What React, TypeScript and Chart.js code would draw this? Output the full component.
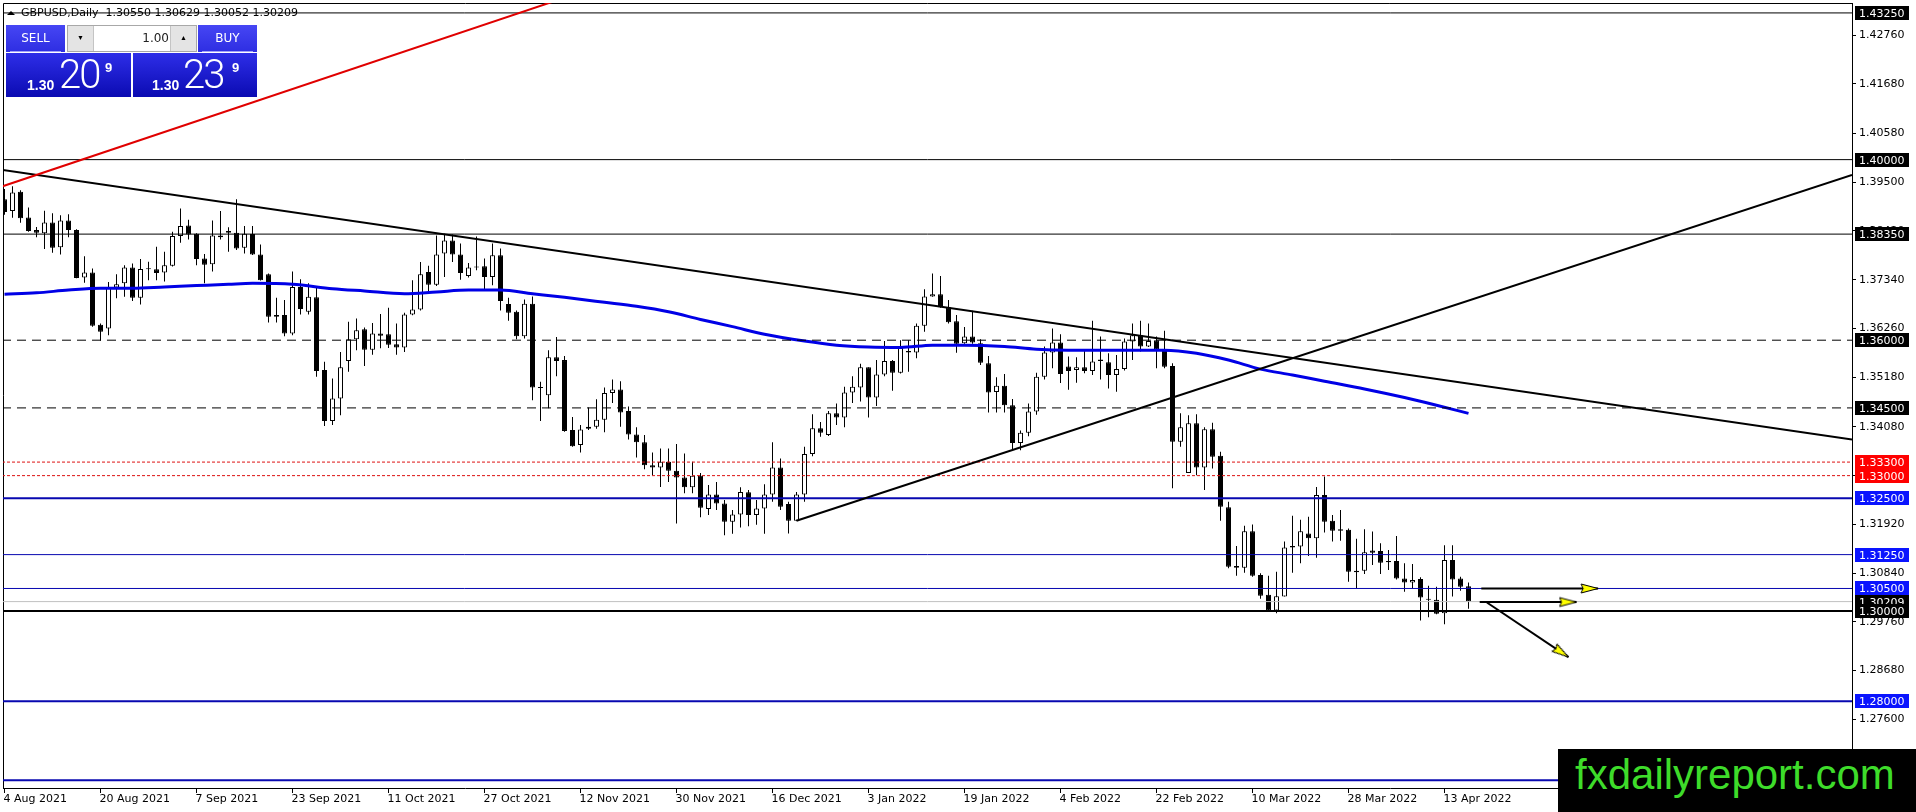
import React, { useEffect, useRef } from 'react';
import { Chart, registerables } from 'chart.js';

Chart.register(...registerables);

// ---------- data ----------
const SYMBOL = 'GBPUSD,Daily';
const LAST_OHLC = [1.3055, 1.30629, 1.30052, 1.30209];
const BID = 1.30209;
const ASK = 1.30239;
const LOT = '1.00';

const DATE_LABELS = ['4 Aug 2021', '20 Aug 2021', '7 Sep 2021', '23 Sep 2021', '11 Oct 2021', '27 Oct 2021', '12 Nov 2021', '30 Nov 2021', '16 Dec 2021', '3 Jan 2022', '19 Jan 2022', '4 Feb 2022', '22 Feb 2022', '10 Mar 2022', '28 Mar 2022', '13 Apr 2022'];
const LABEL_STEP = 12;

const OPEN = [
  1.3912, 1.3886, 1.3929, 1.3872, 1.3844, 1.3837, 1.3861, 1.3806, 1.3865, 1.3844,
  1.3739, 1.3750, 1.3634, 1.3626, 1.3717, 1.3726, 1.3761, 1.3694, 1.3759, 1.3757,
  1.3750, 1.3765, 1.3831, 1.3854, 1.3836, 1.3781, 1.3768, 1.3832, 1.3842, 1.3838,
  1.3805, 1.3835, 1.3790, 1.3746, 1.3656, 1.3656, 1.3615, 1.3718, 1.3663, 1.3695,
  1.3534, 1.3421, 1.3471, 1.3554, 1.3602, 1.3624, 1.3579, 1.3615, 1.3613, 1.3591,
  1.3584, 1.3657, 1.3668, 1.3751, 1.3723, 1.3792, 1.3821, 1.3790, 1.3742, 1.3763,
  1.3764, 1.3740, 1.3788, 1.3680, 1.3663, 1.3609, 1.3681, 1.3495, 1.3478, 1.3562,
  1.3556, 1.3401, 1.3368, 1.3404, 1.3408, 1.3424, 1.3483, 1.3491, 1.3443, 1.3391,
  1.3374, 1.3323, 1.3318, 1.3331, 1.3311, 1.3296, 1.3274, 1.3300, 1.3226, 1.3258,
  1.3238, 1.3198, 1.3214, 1.3263, 1.3213, 1.3227, 1.3258, 1.3318, 1.3237, 1.3200,
  1.3258, 1.3348, 1.3405, 1.3390, 1.3438, 1.3429, 1.3484, 1.3495, 1.3540, 1.3473,
  1.3524, 1.3554, 1.3528, 1.3576, 1.3573, 1.3632, 1.3697, 1.3702, 1.3673, 1.3642,
  1.3593, 1.3608, 1.3593, 1.3549, 1.3485, 1.3499, 1.3456, 1.3372, 1.3395, 1.3442,
  1.3519, 1.3573, 1.3595, 1.3542, 1.3534, 1.3540, 1.3532, 1.3557, 1.3551, 1.3523,
  1.3536, 1.3597, 1.3611, 1.3586, 1.3600, 1.3580, 1.3543, 1.3375, 1.3306, 1.3416,
  1.3318, 1.3403, 1.3344, 1.3230, 1.3100, 1.3096, 1.3177, 1.3080, 1.3036, 1.3001,
  1.3032, 1.3144, 1.3143, 1.3172, 1.3161, 1.3257, 1.3200, 1.3181, 1.3180, 1.3089,
  1.3089, 1.3134, 1.3133, 1.3111, 1.3111, 1.3072, 1.3063, 1.3071, 1.3027, 1.3025,
  1.2995, 1.3113, 1.3072, 1.3055,
];
const HIGH = [
  1.3935, 1.3941, 1.3932, 1.3894, 1.3851, 1.3887, 1.3881, 1.3877, 1.3879, 1.3846,
  1.3786, 1.3759, 1.3637, 1.3729, 1.3746, 1.3766, 1.3770, 1.3780, 1.3774, 1.3807,
  1.3796, 1.3840, 1.3892, 1.3867, 1.3837, 1.3791, 1.3865, 1.3886, 1.3850, 1.3912,
  1.3853, 1.3853, 1.3812, 1.3748, 1.3694, 1.3689, 1.3752, 1.3735, 1.3726, 1.3717,
  1.3552, 1.3515, 1.3574, 1.3641, 1.3648, 1.3628, 1.3638, 1.3658, 1.3672, 1.3637,
  1.3661, 1.3733, 1.3773, 1.3765, 1.3832, 1.3836, 1.3834, 1.3814, 1.3771, 1.3830,
  1.3781, 1.3814, 1.3803, 1.3694, 1.3666, 1.3690, 1.3697, 1.3508, 1.3578, 1.3607,
  1.3565, 1.3430, 1.3412, 1.3451, 1.3469, 1.3495, 1.3513, 1.3509, 1.3453, 1.3407,
  1.3390, 1.3351, 1.3360, 1.3360, 1.3370, 1.3349, 1.3331, 1.3306, 1.3279, 1.3286,
  1.3246, 1.3224, 1.3274, 1.3268, 1.3246, 1.3281, 1.3374, 1.3338, 1.3242, 1.3264,
  1.3364, 1.3436, 1.3419, 1.3443, 1.3460, 1.3497, 1.3520, 1.3548, 1.3540, 1.3556,
  1.3598, 1.3556, 1.3600, 1.3600, 1.3637, 1.3713, 1.3748, 1.3742, 1.3689, 1.3656,
  1.3629, 1.3665, 1.3602, 1.3565, 1.3518, 1.3525, 1.3470, 1.3400, 1.3460, 1.3528,
  1.3586, 1.3626, 1.3613, 1.3564, 1.3562, 1.3576, 1.3643, 1.3608, 1.3571, 1.3567,
  1.3604, 1.3637, 1.3643, 1.3637, 1.3608, 1.3621, 1.3549, 1.3438, 1.3434, 1.3436,
  1.3407, 1.3417, 1.3353, 1.3242, 1.3144, 1.3189, 1.3192, 1.3084, 1.3078, 1.3087,
  1.3154, 1.3211, 1.3202, 1.3209, 1.3275, 1.3298, 1.3213, 1.3224, 1.3183, 1.3160,
  1.3181, 1.3176, 1.3150, 1.3135, 1.3166, 1.3106, 1.3104, 1.3075, 1.3056, 1.3054,
  1.3146, 1.3146, 1.3076, 1.3063,
];
const LOW = [
  1.3878, 1.3871, 1.3860, 1.3840, 1.3828, 1.3802, 1.3794, 1.3790, 1.3828, 1.3737,
  1.3727, 1.3630, 1.3599, 1.3611, 1.3693, 1.3696, 1.3687, 1.3679, 1.3733, 1.3733,
  1.3730, 1.3763, 1.3816, 1.3823, 1.3766, 1.3726, 1.3752, 1.3823, 1.3796, 1.3800,
  1.3792, 1.3789, 1.3732, 1.3639, 1.3639, 1.3609, 1.3611, 1.3657, 1.3657, 1.3519,
  1.3410, 1.3412, 1.3434, 1.3530, 1.3578, 1.3543, 1.3568, 1.3582, 1.3583, 1.3568,
  1.3574, 1.3655, 1.3666, 1.3707, 1.3720, 1.3740, 1.3773, 1.3734, 1.3739, 1.3755,
  1.3712, 1.3722, 1.3666, 1.3643, 1.3602, 1.3604, 1.3467, 1.3421, 1.3449, 1.3520,
  1.3397, 1.3364, 1.3351, 1.3401, 1.3404, 1.3396, 1.3461, 1.3408, 1.3380, 1.3340,
  1.3314, 1.3301, 1.3275, 1.3286, 1.3194, 1.3261, 1.3261, 1.3208, 1.3213, 1.3224,
  1.3168, 1.3171, 1.3185, 1.3188, 1.3191, 1.3171, 1.3242, 1.3224, 1.3172, 1.3200,
  1.3242, 1.3343, 1.3386, 1.3388, 1.3412, 1.3407, 1.3461, 1.3464, 1.3429, 1.3454,
  1.3520, 1.3488, 1.3526, 1.3530, 1.3560, 1.3619, 1.3696, 1.3672, 1.3637, 1.3572,
  1.3592, 1.3592, 1.3545, 1.3440, 1.3440, 1.3440, 1.3358, 1.3356, 1.3387, 1.3435,
  1.3513, 1.3538, 1.3505, 1.3490, 1.3506, 1.3527, 1.3523, 1.3513, 1.3493, 1.3486,
  1.3533, 1.3556, 1.3575, 1.3585, 1.3538, 1.3538, 1.3272, 1.3364, 1.3306, 1.3301,
  1.3268, 1.3316, 1.3200, 1.3095, 1.3078, 1.3085, 1.3076, 1.3027, 1.2999, 1.2995,
  1.3032, 1.3085, 1.3106, 1.3122, 1.3118, 1.3174, 1.3154, 1.3156, 1.3065, 1.3050,
  1.3082, 1.3102, 1.3082, 1.3091, 1.3070, 1.3043, 1.3050, 1.2979, 1.2986, 1.2993,
  1.2971, 1.3032, 1.3045, 1.3005,
];
const CLOSE = [
  1.3884, 1.3927, 1.3870, 1.3842, 1.3838, 1.3861, 1.3805, 1.3865, 1.3844, 1.3738,
  1.3750, 1.3632, 1.3619, 1.3717, 1.3724, 1.3761, 1.3694, 1.3758, 1.3757, 1.3749,
  1.3766, 1.3831, 1.3853, 1.3834, 1.3780, 1.3767, 1.3832, 1.3828, 1.3838, 1.3803,
  1.3836, 1.3790, 1.3733, 1.3652, 1.3652, 1.3615, 1.3718, 1.3669, 1.3696, 1.3532,
  1.3421, 1.3471, 1.3540, 1.3602, 1.3622, 1.3579, 1.3615, 1.3610, 1.3590, 1.3584,
  1.3657, 1.3668, 1.3746, 1.3723, 1.3790, 1.3821, 1.3790, 1.3749, 1.3761, 1.3761,
  1.3740, 1.3788, 1.3687, 1.3661, 1.3609, 1.3681, 1.3495, 1.3494, 1.3562, 1.3554,
  1.3399, 1.3365, 1.3402, 1.3408, 1.3424, 1.3483, 1.3491, 1.3440, 1.3391, 1.3374,
  1.3323, 1.3318, 1.3331, 1.3311, 1.3296, 1.3274, 1.3300, 1.3229, 1.3258, 1.3238,
  1.3198, 1.3214, 1.3264, 1.3213, 1.3227, 1.3258, 1.3318, 1.3231, 1.3200, 1.3258,
  1.3348, 1.3405, 1.3395, 1.3438, 1.3429, 1.3484, 1.3497, 1.3540, 1.3473, 1.3524,
  1.3554, 1.3528, 1.3583, 1.3573, 1.3632, 1.3697, 1.3702, 1.3673, 1.3640, 1.3592,
  1.3608, 1.3595, 1.3550, 1.3484, 1.3499, 1.3456, 1.3372, 1.3395, 1.3442, 1.3519,
  1.3573, 1.3595, 1.3525, 1.3532, 1.3540, 1.3532, 1.3553, 1.3554, 1.3523, 1.3536,
  1.3597, 1.3611, 1.3586, 1.3598, 1.3580, 1.3541, 1.3375, 1.3407, 1.3416, 1.3318,
  1.3403, 1.3342, 1.3231, 1.3098, 1.3096, 1.3177, 1.3078, 1.3034, 1.3001, 1.3033,
  1.3141, 1.3141, 1.3177, 1.3161, 1.3257, 1.3198, 1.3178, 1.3178, 1.3087, 1.3086,
  1.3130, 1.3129, 1.3107, 1.3108, 1.3072, 1.3063, 1.3069, 1.3030, 1.3025, 1.2994,
  1.3113, 1.3070, 1.3054, 1.3021,
];

// moving average (blue), read at sample bars: [bar, value]
const MA_POINTS: [number, number][] = [
  [0, 1.3702], [4, 1.3705], [8, 1.3711], [12, 1.3715], [16, 1.3715], [20, 1.3718], [24, 1.3721],
  [28, 1.3724], [31, 1.3726], [36, 1.3724], [41, 1.3714], [45, 1.3709], [50, 1.3703], [54, 1.3707],
  [58, 1.3711], [62, 1.3711], [66, 1.3703], [70, 1.3695], [75, 1.3684], [79, 1.3675], [83, 1.3663],
  [87, 1.3646], [91, 1.3630], [95, 1.3613], [100, 1.3598], [104, 1.3589], [108, 1.3585], [112, 1.3584],
  [116, 1.3589], [120, 1.3589], [125, 1.3586], [129, 1.3580], [133, 1.3578], [137, 1.3578], [141, 1.3578],
  [145, 1.3578], [149, 1.3571], [153, 1.3556], [157, 1.3536], [161, 1.3523], [165, 1.3509], [170, 1.3492],
  [175, 1.3473], [179, 1.3456], [183, 1.3438],
];

// trend lines: [bar, price] end points
const RED_TREND: [number, number][] = [[-0.56, 1.3939], [80, 1.4418]];
const DOWN_TREND: [number, number][] = [[-0.56, 1.3978], [230.94, 1.3380]];
const UP_TREND: [number, number][] = [[99, 1.3200], [230.94, 1.3966]];
const ARROWS: [number, number][][] = [
  [[184.6, 1.3050], [199.2, 1.3050]],
  [[184.4, 1.3020], [196.5, 1.3020]],
  [[185.3, 1.3019], [195.5, 1.2898]],
];

// horizontal levels
const LEVEL_VALUES = [1.4325, 1.4, 1.3835, 1.36, 1.345, 1.333, 1.33, 1.325, 1.3125, 1.305, 1.30209, 1.3, 1.28, 1.2625];
const LEVEL_KINDS = ['black', 'black', 'black', 'dash', 'dash', 'red', 'red', 'blueThick', 'blue', 'blue', 'bid', 'blackThick', 'blueThick', 'blueHidden'];

const Y_TICKS = [1.2760, 1.2868, 1.2976, 1.3084, 1.3192, 1.3300, 1.3408, 1.3518, 1.3626, 1.3734, 1.3842, 1.3950, 1.4058, 1.4168, 1.4276];
const Y_MIN = 1.2608;
const Y_MAX = 1.4347;
const X_MIN = -0.1875;
const X_MAX = 230.9375;

// ---------- styles ----------
const STYLES: Record<string, { color: string; width: number; dash: number[]; labelBg: string | null }> = {
  black: { color: '#000000', width: 1, dash: [], labelBg: '#000000' },
  dash: { color: '#000000', width: 1, dash: [9, 6], labelBg: '#000000' },
  red: { color: '#dd1111', width: 1, dash: [3, 2], labelBg: '#ff0000' },
  blueThick: { color: '#0808b0', width: 2, dash: [], labelBg: '#0a14ff' },
  blue: { color: '#0808b0', width: 1, dash: [], labelBg: '#0a14ff' },
  bid: { color: '#c0c0c0', width: 1, dash: [], labelBg: '#000000' },
  blackThick: { color: '#000000', width: 2, dash: [], labelBg: '#000000' },
  blueHidden: { color: '#0808b0', width: 2, dash: [], labelBg: null },
};
const FONT = '"DejaVu Sans", sans-serif';

function makeArrowHead(): HTMLCanvasElement {
  const L = 17;
  const H = 9;
  const c = document.createElement('canvas');
  c.width = 2 * L + 2;
  c.height = H + 4;
  const g = c.getContext('2d')!;
  const cx = c.width / 2;
  const cy = c.height / 2;
  g.beginPath();
  g.moveTo(cx, cy);
  g.lineTo(cx - L, cy - H / 2);
  g.lineTo(cx - L + 2, cy);
  g.lineTo(cx - L, cy + H / 2);
  g.closePath();
  g.fillStyle = '#ffff00';
  g.fill();
  g.strokeStyle = '#000000';
  g.lineWidth = 1;
  g.stroke();
  return c;
}

const overlayPlugin = {
  id: 'mtOverlay',
  beforeDatasetsDraw(chart: any) {
    const { ctx, chartArea: a } = chart;
    ctx.save();
    ctx.strokeStyle = '#000';
    ctx.lineWidth = 1;
    ctx.beginPath();
    ctx.moveTo(a.left + 0.5, a.bottom);
    ctx.lineTo(a.left + 0.5, a.top + 0.5);
    ctx.lineTo(a.right, a.top + 0.5);
    ctx.stroke();
    ctx.restore();
  },
  afterDraw(chart: any) {
    const { ctx, chartArea: a } = chart;
    const ys = chart.scales.y;
    ctx.save();
    ctx.font = '11px ' + FONT;
    ctx.textAlign = 'left';
    ctx.textBaseline = 'alphabetic';
    LEVEL_VALUES.forEach((v, i) => {
      const st = STYLES[LEVEL_KINDS[i]];
      if (!st.labelBg) return;
      const y = Math.round(ys.getPixelForValue(v));
      ctx.fillStyle = st.labelBg;
      ctx.fillRect(a.right + 3, y - 7, 54, 14);
      ctx.fillStyle = '#ffffff';
      ctx.fillText(v.toFixed(5), a.right + 7, y + 4);
    });
    ctx.restore();
  },
};

function buildConfig(): any {
  const arrowImg = makeArrowHead();
  const wickData = CLOSE.map((_, i) => ({ x: i, y: [LOW[i], HIGH[i]] }));
  const bodyData = CLOSE.map((c, i) => ({ x: i, y: [Math.min(OPEN[i], c), Math.max(OPEN[i], c)] }));
  const bodyColors = CLOSE.map((c, i) => (c > OPEN[i] ? '#ffffff' : '#000000'));

  const levelSets = LEVEL_VALUES.map((v, i) => {
    const st = STYLES[LEVEL_KINDS[i]];
    return {
      type: 'line',
      data: [{ x: X_MIN - 2, y: v }, { x: X_MAX + 2, y: v }],
      borderColor: st.color,
      borderWidth: st.width,
      borderDash: st.dash,
      pointRadius: 0,
      order: 30,
    };
  });

  const trend = (pts: [number, number][], color: string) => ({
    type: 'line',
    data: pts.map(([x, y]) => ({ x, y })),
    borderColor: color,
    borderWidth: 2,
    pointRadius: 0,
    order: 10,
  });

  const arrowSets = ARROWS.map((pts) => ({
    type: 'line',
    data: pts.map(([x, y]) => ({ x, y })),
    borderColor: '#000000',
    borderWidth: 2,
    pointRadius: [0, 6],
    pointStyle: arrowImg,
    pointRotation: (ctx: any) => {
      const ch = ctx.chart;
      const xs = ch.scales.x;
      const ys = ch.scales.y;
      const dx = xs.getPixelForValue(pts[1][0]) - xs.getPixelForValue(pts[0][0]);
      const dy = ys.getPixelForValue(pts[1][1]) - ys.getPixelForValue(pts[0][1]);
      return (Math.atan2(dy, dx) * 180) / Math.PI;
    },
    order: 1,
  }));

  return {
    type: 'bar',
    data: {
      datasets: [
        {
          type: 'bar',
          data: bodyData,
          backgroundColor: bodyColors,
          borderColor: '#000000',
          borderWidth: 1,
          borderSkipped: false,
          barThickness: 5,
          minBarLength: 1,
          grouped: false,
          inflateAmount: 0,
          order: 99,
        },
        {
          type: 'bar',
          data: wickData,
          backgroundColor: '#000000',
          borderWidth: 0,
          barThickness: 1,
          grouped: false,
          inflateAmount: 0,
          order: 100,
        },
        {
          type: 'line',
          data: MA_POINTS.map(([x, y]) => ({ x, y })),
          borderColor: '#0000e6',
          borderWidth: 3,
          pointRadius: 0,
          cubicInterpolationMode: 'monotone',
          order: 40,
        },
        ...levelSets,
        trend(RED_TREND, '#e00000'),
        trend(DOWN_TREND, '#000000'),
        trend(UP_TREND, '#000000'),
        ...arrowSets,
      ],
    },
    options: {
      animation: false,
      responsive: false,
      devicePixelRatio: 1,
      events: [],
      layout: { padding: { top: 3, left: 3, right: 0, bottom: 0 }, autoPadding: false },
      plugins: { legend: { display: false }, tooltip: { enabled: false } },
      scales: {
        x: {
          type: 'linear',
          position: 'bottom',
          min: X_MIN,
          max: X_MAX,
          offset: false,
          grid: { drawOnChartArea: false, drawTicks: true, tickLength: 5, color: '#000000', offset: false },
          border: { display: true, color: '#000000', width: 1 },
          afterBuildTicks: (s: any) => {
            s.ticks = DATE_LABELS.map((_, i) => ({ value: i * LABEL_STEP }));
          },
          afterFit: (s: any) => {
            s.height = 24;
            s.paddingLeft = 0;
            s.paddingRight = 0;
            s.paddingTop = 0;
            s.paddingBottom = 0;
          },
          ticks: {
            autoSkip: false,
            maxRotation: 0,
            minRotation: 0,
            align: 'start',
            labelOffset: -1,
            padding: 0,
            color: '#000000',
            font: { family: FONT, size: 11 },
            callback: (_v: any, i: number) => DATE_LABELS[i],
          },
        },
        y: {
          type: 'linear',
          position: 'right',
          min: Y_MIN,
          max: Y_MAX,
          beginAtZero: false,
          grid: { drawOnChartArea: false, drawTicks: true, tickLength: 4, color: '#000000' },
          border: { display: true, color: '#000000', width: 1 },
          afterBuildTicks: (s: any) => {
            s.ticks = Y_TICKS.map((v) => ({ value: v }));
          },
          afterFit: (s: any) => {
            s.width = 64;
            s.paddingLeft = 0;
            s.paddingRight = 0;
            s.paddingTop = 0;
            s.paddingBottom = 0;
          },
          ticks: {
            padding: 3,
            color: '#000000',
            font: { family: FONT, size: 11 },
            callback: (v: any) => Number(v).toFixed(5),
          },
        },
      },
    },
    plugins: [overlayPlugin],
  };
}

function PricePanel({ left, width, price, bigLeft, smallLeft, supLeft }: { left: number; width: number; price: number; bigLeft: number; smallLeft: number; supLeft: number }) {
  const s = price.toFixed(5);
  return (
    <div style={{ position: 'absolute', left, top: 53, width, height: 44, background: 'linear-gradient(#2e2ee8, #0b0bb2)', color: '#fff' }}>
      <span style={{ position: 'absolute', left: smallLeft, top: 25, fontFamily: '"Liberation Sans", Arial, sans-serif', fontWeight: 700, fontSize: 14, lineHeight: 1 }}>{s.slice(0, 4)}</span>
      <span style={{ position: 'absolute', left: bigLeft, top: 2, fontFamily: 'Roboto, "Open Sans", sans-serif', fontWeight: 300, fontSize: 40, lineHeight: 1, letterSpacing: -2 }}>{s.slice(4, 6)}</span>
      <span style={{ position: 'absolute', left: supLeft, top: 8, fontFamily: '"Liberation Sans", Arial, sans-serif', fontWeight: 700, fontSize: 13, lineHeight: 1 }}>{s.slice(6)}</span>
    </div>
  );
}

export default function App() {
  const ref = useRef<HTMLCanvasElement | null>(null);

  useEffect(() => {
    document.body.style.margin = '0';
    const canvas = ref.current;
    if (!canvas) return;
    const chart = new Chart(canvas, buildConfig());
    return () => chart.destroy();
  }, []);

  const topBtn = (left: number, text: string) => (
    <div style={{ position: 'absolute', left, top: 25, width: 59, height: 27, background: 'linear-gradient(#4646f4, #2e2ee2)', color: '#fff', fontFamily: FONT, fontSize: 12, lineHeight: '27px', textAlign: 'center' }}>
      {text}
      <div style={{ position: 'absolute', left: 4, right: 4, bottom: 0, height: 1, background: 'rgba(190,190,255,0.8)' }} />
    </div>
  );

  return (
    <div style={{ position: 'relative', width: 1916, height: 812, overflow: 'hidden', background: '#ffffff' }}>
      <canvas ref={ref} width={1916} height={812} style={{ display: 'block', width: 1916, height: 812 }} />

      {/* title */}
      <div style={{ position: 'absolute', left: 7, top: 11, width: 0, height: 0, borderLeft: '4px solid transparent', borderRight: '4px solid transparent', borderBottom: '4px solid #000' }} />
      <div style={{ position: 'absolute', left: 21, top: 6, fontFamily: FONT, fontSize: 11, lineHeight: '14px', color: '#000', whiteSpace: 'pre' }}>
        {SYMBOL + '  ' + LAST_OHLC.map((v) => v.toFixed(5)).join(' ')}
      </div>

      {/* one-click trading panel */}
      {topBtn(6, 'SELL')}
      {topBtn(198, 'BUY')}
      <div style={{ position: 'absolute', left: 67, top: 25, width: 128, height: 25, border: '1px solid #a8a8a8', background: '#ffffff' }}>
        <div style={{ position: 'absolute', left: 0, top: 0, width: 25, height: 25, background: '#e4e4e4', borderRight: '1px solid #c4c4c4', fontSize: 7, lineHeight: '25px', textAlign: 'center', color: '#000' }}>▼</div>
        <div style={{ position: 'absolute', left: 26, top: 0, width: 75, height: 25, fontFamily: FONT, fontSize: 12, lineHeight: '25px', textAlign: 'right', color: '#222' }}>{LOT}</div>
        <div style={{ position: 'absolute', right: 0, top: 0, width: 25, height: 25, background: '#e4e4e4', borderLeft: '1px solid #c4c4c4', fontSize: 7, lineHeight: '25px', textAlign: 'center', color: '#000' }}>▲</div>
      </div>
      <PricePanel left={6} width={125} price={BID} smallLeft={21} bigLeft={53} supLeft={99} />
      <PricePanel left={133} width={124} price={ASK} smallLeft={19} bigLeft={50} supLeft={99} />

      {/* watermark */}
      <div style={{ position: 'absolute', left: 1558, top: 749, width: 358, height: 63, background: '#000000' }}>
        <span style={{ position: 'absolute', left: 17, top: 5, fontFamily: '"Liberation Sans", Arial, sans-serif', fontSize: 42, lineHeight: 1, color: '#3edc2a', whiteSpace: 'pre' }}>fxdailyreport.com</span>
      </div>
    </div>
  );
}
